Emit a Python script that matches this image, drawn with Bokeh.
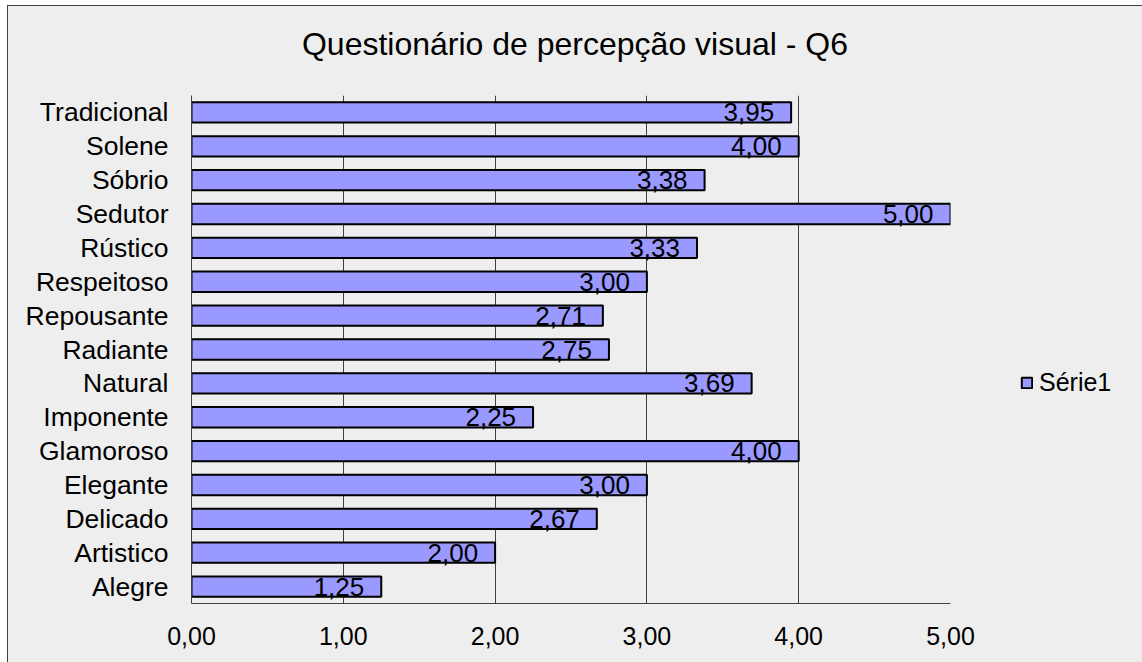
from bokeh.plotting import figure
from bokeh.layouts import column
from bokeh.models import (FactorRange, Range1d, FixedTicker, Legend, LegendItem,
                          ColumnDataSource, Div)
from bokeh.core.properties import value
from bokeh.embed import file_html
from bokeh.resources import INLINE

categories = ["Alegre", "Artistico", "Delicado", "Elegante", "Glamoroso",
              "Imponente", "Natural", "Radiante", "Repousante", "Respeitoso",
              "Rústico", "Sedutor", "Sóbrio", "Solene", "Tradicional"]
values = [1.25, 2.00, 2.67, 3.00, 4.00, 2.25, 3.69, 2.75, 2.71, 3.00,
          3.33, 5.00, 3.38, 4.00, 3.95]
tick_values = [0, 1, 2, 3, 4, 5]
tick_labels = ["0,00", "1,00", "2,00", "3,00", "4,00", "5,00"]
series_name = "Série1"
title_text = "Questionário de percepção visual - Q6"

FONT = "Liberation Sans"
BG = "#eeeeee"
EDGE = "1px solid #404040"

src = ColumnDataSource(dict(
    cat=categories,
    val=values,
    lab=[f"{v:.2f}".replace(".", ",") for v in values],
))

# chart title as a centred heading strip above the plot
title = Div(
    text=title_text, width=1134, height=76, margin=0,
    styles={"font-family": FONT, "font-size": "32px", "line-height": "76px",
            "text-align": "center", "color": "#000000",
            "background-color": BG, "width": "1134px"},
)

p = figure(
    frame_width=759, frame_height=508,
    y_range=FactorRange(*categories),
    x_range=Range1d(0, 5),
    output_backend="svg", toolbar_location=None,
    background_fill_color=BG, border_fill_color=BG,
    min_border_left=183, min_border_right=192,
    min_border_top=13, min_border_bottom=60,
    outline_line_color=None, margin=0,
)

p.xgrid.grid_line_color = "#404040"
p.xgrid.grid_line_width = 1
p.ygrid.grid_line_color = None

bars = p.hbar(y="cat", right="val", left=0, height=0.6, source=src,
              fill_color="#9999ff", line_color="#000000", line_width=2)

p.text(x="val", y="cat", text="lab", source=src,
       text_align="right", text_baseline="middle",
       x_offset=-17, y_offset=0,
       text_font=value(FONT), text_font_size="26px", text_color="#000000")

p.xaxis.ticker = FixedTicker(ticks=tick_values)
p.xaxis.major_label_overrides = {t: l for t, l in zip(tick_values, tick_labels)}
for ax in (p.xaxis[0], p.yaxis[0]):
    ax.major_tick_line_color = None
    ax.minor_tick_line_color = None
    ax.axis_line_color = "#404040"
    ax.major_label_text_font = FONT
    ax.major_label_text_color = "#000000"
p.xaxis.major_label_text_font_size = "25px"
p.yaxis.major_label_text_font_size = "26.5px"
p.xaxis.major_label_standoff = 17
p.yaxis.major_label_standoff = 17

legend = Legend(items=[LegendItem(label=series_name, renderers=[bars])],
                location=(70, 206), orientation="vertical",
                background_fill_alpha=0, border_line_color=None,
                glyph_width=13, glyph_height=13, label_standoff=6,
                padding=0, margin=0, spacing=0,
                label_text_font=FONT, label_text_font_size="25px",
                label_text_color="#000000")
p.add_layout(legend, "right")

chart = column(title, p, spacing=0, margin=(5, 0, 0, 7),
               styles={"border-left": EDGE, "border-top": EDGE,
                       "border-right": EDGE, "background-color": BG})

open("out.html", "w").write(file_html(chart, INLINE))
